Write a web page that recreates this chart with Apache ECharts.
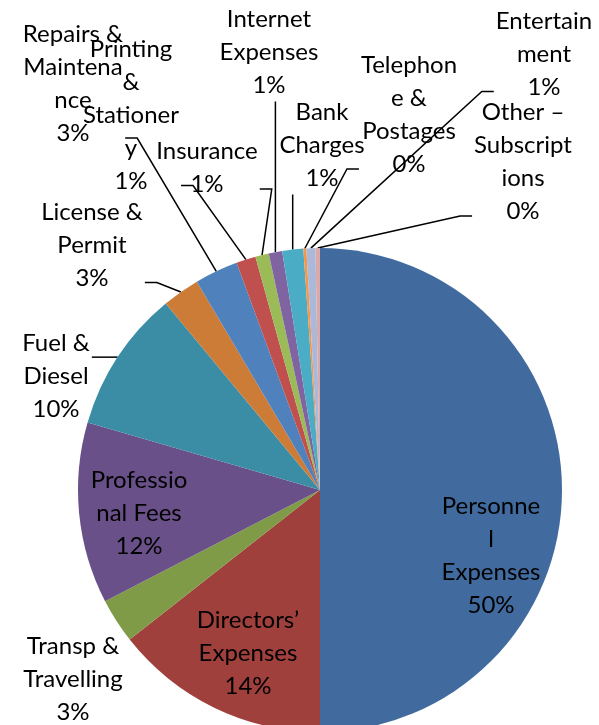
<!DOCTYPE html>
<html>
<head>
<meta charset="utf-8">
<script src="https://cdn.jsdelivr.net/npm/echarts@6/dist/echarts.min.js"></script>
<style>
  html, body { margin: 0; padding: 0; background: #fff; }
  #chart { width: 599px; height: 725px; }
</style>
</head>
<body>
<div id="chart"></div>
<script>
// expense categories, clockwise from 12 o'clock
var categories = [
  'Personnel Expenses', 'Directors’ Expenses', 'Transp & Travelling', 'Professional Fees',
  'Fuel & Diesel', 'License & Permit', 'Repairs & Maintenance', 'Printing & Stationery',
  'Insurance', 'Internet Expenses', 'Bank Charges', 'Telephone & Postages',
  'Entertainment', 'Other – Subscriptions'
]
// label text as wrapped in the original
var wrapped = [
  'Personne\nl\nExpenses', 'Directors’\nExpenses', 'Transp &\nTravelling', 'Professio\nnal Fees',
  'Fuel &\nDiesel', 'License &\nPermit', 'Repairs &\nMaintena\nnce', 'Printing\n&\nStationer\ny',
  'Insurance', 'Internet\nExpenses', 'Bank\nCharges', 'Telephon\ne &\nPostages',
  'Entertain\nment', 'Other –\nSubscript\nions'
]
// share of total, percent
var shares = [50.0, 14.4, 3.0, 12.1, 9.5, 2.5, 2.9, 1.3, 0.9, 0.9, 1.4, 0.2, 0.6, 0.3]

var colors = ['#416b9e', '#a0403d', '#7f9b48', '#6a5088', '#3b8da5', '#cd7c37', '#4f81bd',
  '#c0504d', '#9bbb59', '#8064a2', '#4bacc6', '#f79646', '#aab9d9', '#dba9a8']

// label block centres (manually placed labels in the source chart)
var labelPos = [
  [491, 556], [248, 653], [73, 679], [139, 513], [56, 376], [92, 245], [73, 84],
  [131, 115], [207, 168], [269, 52], [322, 145], [409, 115], [544, 54], [523, 162]
]
var noLine = [0, 1, 2, 3]

var total = shares.reduce(function (a, b) { return a + b }, 0)

var chart = echarts.init(document.getElementById('chart'), null, { renderer: 'canvas' })

chart.setOption({
  animation: false,
  backgroundColor: '#fff',
  color: colors,
  series: [{
    type: 'pie',
    center: [320, 490],
    radius: 242,
    startAngle: 90,
    clockwise: true,
    avoidLabelOverlap: false,
    itemStyle: { borderWidth: 0 },
    label: {
      show: true,
      position: 'outside',
      color: '#000',
      fontFamily: 'Lato',
      fontSize: 24,
      lineHeight: 33,
      align: 'center',
      formatter: function (p) {
        return wrapped[p.dataIndex] + '\n' + Math.round(p.value / total * 100 + 1e-9) + '%'
      }
    },
    labelLine: {
      show: true,
      length: 10,
      length2: 10,
      lineStyle: { color: '#000', width: 1.5 }
    },
    labelLayout: function (p) {
      var c = labelPos[p.dataIndex]
      var w = p.labelRect.width, h = p.labelRect.height
      var out = { x: c[0], y: c[1], align: 'center', verticalAlign: 'middle' }
      var pts = p.labelLinePoints
      if (pts && pts.length) {
        var s = pts[0]
        var l = c[0] - w / 2, r = c[0] + w / 2, t = c[1] - h / 2, b = c[1] + h / 2
        var e, m
        if (s[0] > r || s[0] < l) {
          var ex = s[0] > r ? r + 2 : l - 2
          var ey = Math.min(Math.max(s[1], t + 12), b - 12)
          e = [ex, ey]
          m = [ex + (s[0] > r ? 12 : -12), ey]
        } else {
          e = [s[0], b]
          m = [s[0], b]
        }
        out.labelLinePoints = [s, m, e]
      }
      return out
    },
    data: categories.map(function (name, i) {
      var d = { name: name, value: shares[i] }
      if (noLine.indexOf(i) >= 0) d.labelLine = { show: false }
      return d
    })
  }]
})
</script>
</body>
</html>
